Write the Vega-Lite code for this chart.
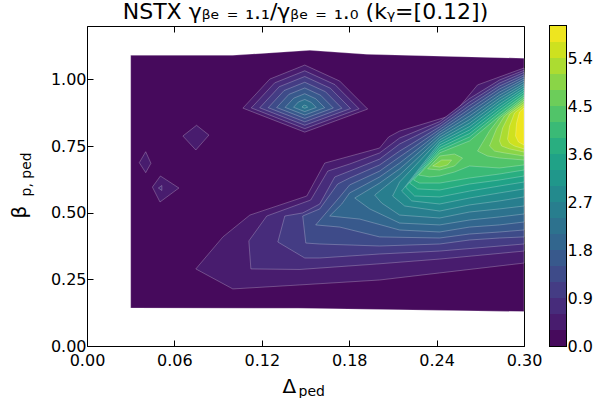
{
  "$schema": "https://vega.github.io/schema/vega-lite/v6.json",
  "background": "white",
  "padding": {"left": 9, "top": 0, "right": 0, "bottom": 0},
  "config": {
    "font": "DejaVu Sans",
    "view": {"stroke": null},
    "axis": {"grid": false, "domain": true, "domainColor": "black", "domainWidth": 1, "ticks": true, "tickColor": "black", "tickWidth": 1, "tickSize": -6, "labelColor": "black", "labelFontSize": 16, "labelFont": "DejaVu Sans", "titleColor": "black", "titleFont": "DejaVu Sans", "titleFontWeight": "normal", "zindex": 1, "labelPadding": 7, "labelFlush": false, "labelOverlap": false},
    "concat": {"spacing": 7}
  },
  "datasets": {
    "bands": [
      {"k":0,"lo":0,"hi":0.3},{"k":1,"lo":0.3,"hi":0.6},{"k":2,"lo":0.6,"hi":0.9},{"k":3,"lo":0.9,"hi":1.2},{"k":4,"lo":1.2,"hi":1.5},{"k":5,"lo":1.5,"hi":1.8},{"k":6,"lo":1.8,"hi":2.1},{"k":7,"lo":2.1,"hi":2.4},{"k":8,"lo":2.4,"hi":2.7},{"k":9,"lo":2.7,"hi":3.0},{"k":10,"lo":3.0,"hi":3.3},{"k":11,"lo":3.3,"hi":3.6},{"k":12,"lo":3.6,"hi":3.9},{"k":13,"lo":3.9,"hi":4.2},{"k":14,"lo":4.2,"hi":4.5},{"k":15,"lo":4.5,"hi":4.8},{"k":16,"lo":4.8,"hi":5.1},{"k":17,"lo":5.1,"hi":5.4},{"k":18,"lo":5.4,"hi":5.7},{"k":19,"lo":5.7,"hi":6.0}
    ],
    "poly": [
      {"p":0,"k":0,"o":1,"x":0.03,"y":0.1425},{"p":0,"k":0,"o":2,"x":0.03,"y":1.09},{"p":0,"k":0,"o":3,"x":0.1,"y":1.09},{"p":0,"k":0,"o":4,"x":0.153,"y":1.109},{"p":0,"k":0,"o":5,"x":0.192,"y":1.094},{"p":0,"k":0,"o":6,"x":0.3,"y":1.079},{"p":0,"k":0,"o":7,"x":0.3,"y":0.129},{"p":0,"k":0,"o":8,"x":0.146,"y":0.1413},

      {"p":1,"k":1,"o":1,"x":0.0747,"y":0.289},{"p":1,"k":1,"o":2,"x":0.0933,"y":0.409},{"p":1,"k":1,"o":3,"x":0.1118,"y":0.491},{"p":1,"k":1,"o":4,"x":0.1509,"y":0.5625},{"p":1,"k":1,"o":5,"x":0.1632,"y":0.686},{"p":1,"k":1,"o":6,"x":0.2009,"y":0.7425},{"p":1,"k":1,"o":7,"x":0.2071,"y":0.784},{"p":1,"k":1,"o":8,"x":0.2146,"y":0.806},{"p":1,"k":1,"o":9,"x":0.251,"y":0.866},{"p":1,"k":1,"o":10,"x":0.2681,"y":0.979},{"p":1,"k":1,"o":11,"x":0.3,"y":1.0425},{"p":1,"k":1,"o":12,"x":0.3,"y":0.311},{"p":1,"k":1,"o":13,"x":0.2421,"y":0.274},{"p":1,"k":1,"o":14,"x":0.2009,"y":0.2475},{"p":1,"k":1,"o":15,"x":0.1461,"y":0.229},{"p":1,"k":1,"o":16,"x":0.1001,"y":0.214},

      {"p":2,"k":2,"o":1,"x":0.1125,"y":0.289},{"p":2,"k":2,"o":2,"x":0.1111,"y":0.394},{"p":2,"k":2,"o":3,"x":0.1234,"y":0.4875},{"p":2,"k":2,"o":4,"x":0.1536,"y":0.5475},{"p":2,"k":2,"o":5,"x":0.1653,"y":0.656},{"p":2,"k":2,"o":6,"x":0.1803,"y":0.6825},{"p":2,"k":2,"o":7,"x":0.2009,"y":0.724},{"p":2,"k":2,"o":8,"x":0.2146,"y":0.78},{"p":2,"k":2,"o":9,"x":0.2421,"y":0.8415},{"p":2,"k":2,"o":10,"x":0.2626,"y":0.928},{"p":2,"k":2,"o":11,"x":0.2832,"y":0.9975},{"p":2,"k":2,"o":12,"x":0.3,"y":1.034},{"p":2,"k":2,"o":13,"x":0.3,"y":0.356},{"p":2,"k":2,"o":14,"x":0.2421,"y":0.326},{"p":2,"k":2,"o":15,"x":0.1989,"y":0.3075},{"p":2,"k":2,"o":16,"x":0.1461,"y":0.287},

      {"p":3,"k":3,"o":1,"x":0.131,"y":0.39},{"p":3,"k":3,"o":2,"x":0.1358,"y":0.4875},{"p":3,"k":3,"o":3,"x":0.1481,"y":0.499},{"p":3,"k":3,"o":4,"x":0.1598,"y":0.5325},{"p":3,"k":3,"o":5,"x":0.1701,"y":0.634},{"p":3,"k":3,"o":6,"x":0.1803,"y":0.656},{"p":3,"k":3,"o":7,"x":0.2009,"y":0.701},{"p":3,"k":3,"o":8,"x":0.2146,"y":0.7575},{"p":3,"k":3,"o":9,"x":0.2421,"y":0.832},{"p":3,"k":3,"o":10,"x":0.2626,"y":0.915},{"p":3,"k":3,"o":11,"x":0.2832,"y":0.986},{"p":3,"k":3,"o":12,"x":0.3,"y":1.026},{"p":3,"k":3,"o":13,"x":0.3,"y":0.3825},{"p":3,"k":3,"o":14,"x":0.2421,"y":0.356},{"p":3,"k":3,"o":15,"x":0.2009,"y":0.345},{"p":3,"k":3,"o":16,"x":0.1598,"y":0.33},{"p":3,"k":3,"o":17,"x":0.1495,"y":0.33},

      {"p":4,"k":4,"o":1,"x":0.1481,"y":0.4875},{"p":4,"k":4,"o":2,"x":0.1598,"y":0.514},{"p":4,"k":4,"o":3,"x":0.1721,"y":0.6075},{"p":4,"k":4,"o":4,"x":0.1803,"y":0.63},{"p":4,"k":4,"o":5,"x":0.2009,"y":0.679},{"p":4,"k":4,"o":6,"x":0.2146,"y":0.731},{"p":4,"k":4,"o":7,"x":0.2421,"y":0.822},{"p":4,"k":4,"o":8,"x":0.2626,"y":0.902},{"p":4,"k":4,"o":9,"x":0.2832,"y":0.975},{"p":4,"k":4,"o":10,"x":0.3,"y":1.017},{"p":4,"k":4,"o":11,"x":0.3,"y":0.409},{"p":4,"k":4,"o":12,"x":0.2832,"y":0.405},{"p":4,"k":4,"o":13,"x":0.2626,"y":0.3975},{"p":4,"k":4,"o":14,"x":0.2421,"y":0.3825},{"p":4,"k":4,"o":15,"x":0.2009,"y":0.375},{"p":4,"k":4,"o":16,"x":0.1598,"y":0.3825},{"p":4,"k":4,"o":17,"x":0.1502,"y":0.386},

      {"p":5,"k":5,"o":1,"x":0.157,"y":0.454},{"p":5,"k":5,"o":2,"x":0.1735,"y":0.559},{"p":5,"k":5,"o":3,"x":0.1803,"y":0.604},{"p":5,"k":5,"o":4,"x":0.2009,"y":0.656},{"p":5,"k":5,"o":5,"x":0.2146,"y":0.709},{"p":5,"k":5,"o":6,"x":0.2421,"y":0.812},{"p":5,"k":5,"o":7,"x":0.2626,"y":0.889},{"p":5,"k":5,"o":8,"x":0.2832,"y":0.964},{"p":5,"k":5,"o":9,"x":0.3,"y":1.009},{"p":5,"k":5,"o":10,"x":0.3,"y":0.435},{"p":5,"k":5,"o":11,"x":0.2832,"y":0.4275},{"p":5,"k":5,"o":12,"x":0.2626,"y":0.42},{"p":5,"k":5,"o":13,"x":0.2421,"y":0.405},{"p":5,"k":5,"o":14,"x":0.2009,"y":0.409},{"p":5,"k":5,"o":15,"x":0.1735,"y":0.446},

      {"p":6,"k":6,"o":1,"x":0.1666,"y":0.4875},{"p":6,"k":6,"o":2,"x":0.1749,"y":0.5325},{"p":6,"k":6,"o":3,"x":0.1803,"y":0.574},{"p":6,"k":6,"o":4,"x":0.2009,"y":0.634},{"p":6,"k":6,"o":5,"x":0.2146,"y":0.686},{"p":6,"k":6,"o":6,"x":0.2421,"y":0.8025},{"p":6,"k":6,"o":7,"x":0.2626,"y":0.876},{"p":6,"k":6,"o":8,"x":0.2832,"y":0.9525},{"p":6,"k":6,"o":9,"x":0.3,"y":1.001},{"p":6,"k":6,"o":10,"x":0.3,"y":0.465},{"p":6,"k":6,"o":11,"x":0.2832,"y":0.454},{"p":6,"k":6,"o":12,"x":0.2626,"y":0.446},{"p":6,"k":6,"o":13,"x":0.2421,"y":0.4275},{"p":6,"k":6,"o":14,"x":0.2146,"y":0.435},{"p":6,"k":6,"o":15,"x":0.1872,"y":0.476},

      {"p":7,"k":7,"o":1,"x":0.1838,"y":0.555},{"p":7,"k":7,"o":2,"x":0.2009,"y":0.611},{"p":7,"k":7,"o":3,"x":0.2146,"y":0.664},{"p":7,"k":7,"o":4,"x":0.2421,"y":0.793},{"p":7,"k":7,"o":5,"x":0.2626,"y":0.8625},{"p":7,"k":7,"o":6,"x":0.2832,"y":0.941},{"p":7,"k":7,"o":7,"x":0.3,"y":0.993},{"p":7,"k":7,"o":8,"x":0.3,"y":0.495},{"p":7,"k":7,"o":9,"x":0.2832,"y":0.484},{"p":7,"k":7,"o":10,"x":0.2626,"y":0.4725},{"p":7,"k":7,"o":11,"x":0.2421,"y":0.454},{"p":7,"k":7,"o":12,"x":0.2146,"y":0.461},{"p":7,"k":7,"o":13,"x":0.1941,"y":0.514},

      {"p":8,"k":8,"o":1,"x":0.1975,"y":0.566},{"p":8,"k":8,"o":2,"x":0.2043,"y":0.596},{"p":8,"k":8,"o":3,"x":0.2146,"y":0.641},{"p":8,"k":8,"o":4,"x":0.2421,"y":0.783},{"p":8,"k":8,"o":5,"x":0.2626,"y":0.849},{"p":8,"k":8,"o":6,"x":0.2832,"y":0.93},{"p":8,"k":8,"o":7,"x":0.3,"y":0.984},{"p":8,"k":8,"o":8,"x":0.3,"y":0.525},{"p":8,"k":8,"o":9,"x":0.2832,"y":0.514},{"p":8,"k":8,"o":10,"x":0.2626,"y":0.5025},{"p":8,"k":8,"o":11,"x":0.2421,"y":0.48},{"p":8,"k":8,"o":12,"x":0.2146,"y":0.491},{"p":8,"k":8,"o":13,"x":0.2023,"y":0.536},

      {"p":9,"k":9,"o":1,"x":0.2098,"y":0.5625},{"p":9,"k":9,"o":2,"x":0.2146,"y":0.615},{"p":9,"k":9,"o":3,"x":0.2421,"y":0.773},{"p":9,"k":9,"o":4,"x":0.2626,"y":0.836},{"p":9,"k":9,"o":5,"x":0.2832,"y":0.919},{"p":9,"k":9,"o":6,"x":0.3,"y":0.976},{"p":9,"k":9,"o":7,"x":0.3,"y":0.559},{"p":9,"k":9,"o":8,"x":0.2832,"y":0.544},{"p":9,"k":9,"o":9,"x":0.2626,"y":0.529},{"p":9,"k":9,"o":10,"x":0.2421,"y":0.506},{"p":9,"k":9,"o":11,"x":0.2181,"y":0.525},

      {"p":10,"k":10,"o":1,"x":0.216,"y":0.581},{"p":10,"k":10,"o":2,"x":0.2421,"y":0.7635},{"p":10,"k":10,"o":3,"x":0.2626,"y":0.823},{"p":10,"k":10,"o":4,"x":0.2832,"y":0.9075},{"p":10,"k":10,"o":5,"x":0.3,"y":0.9675},{"p":10,"k":10,"o":6,"x":0.3,"y":0.589},{"p":10,"k":10,"o":7,"x":0.2832,"y":0.574},{"p":10,"k":10,"o":8,"x":0.2626,"y":0.555},{"p":10,"k":10,"o":9,"x":0.2421,"y":0.5325},{"p":10,"k":10,"o":10,"x":0.2229,"y":0.544},

      {"p":11,"k":11,"o":1,"x":0.2187,"y":0.596},{"p":11,"k":11,"o":2,"x":0.2421,"y":0.754},{"p":11,"k":11,"o":3,"x":0.2626,"y":0.81},{"p":11,"k":11,"o":4,"x":0.2832,"y":0.896},{"p":11,"k":11,"o":5,"x":0.3,"y":0.959},{"p":11,"k":11,"o":6,"x":0.3,"y":0.615},{"p":11,"k":11,"o":7,"x":0.2832,"y":0.6},{"p":11,"k":11,"o":8,"x":0.2626,"y":0.581},{"p":11,"k":11,"o":9,"x":0.2421,"y":0.559},{"p":11,"k":11,"o":10,"x":0.2249,"y":0.5625},

      {"p":12,"k":12,"o":1,"x":0.2215,"y":0.611},{"p":12,"k":12,"o":2,"x":0.2421,"y":0.744},{"p":12,"k":12,"o":3,"x":0.2626,"y":0.797},{"p":12,"k":12,"o":4,"x":0.2832,"y":0.885},{"p":12,"k":12,"o":5,"x":0.3,"y":0.951},{"p":12,"k":12,"o":6,"x":0.3,"y":0.6375},{"p":12,"k":12,"o":7,"x":0.2832,"y":0.6225},{"p":12,"k":12,"o":8,"x":0.2626,"y":0.6075},{"p":12,"k":12,"o":9,"x":0.2421,"y":0.585},{"p":12,"k":12,"o":10,"x":0.227,"y":0.589},

      {"p":13,"k":13,"o":1,"x":0.2242,"y":0.6225},{"p":13,"k":13,"o":2,"x":0.2421,"y":0.734},{"p":13,"k":13,"o":3,"x":0.2626,"y":0.784},{"p":13,"k":13,"o":4,"x":0.2832,"y":0.874},{"p":13,"k":13,"o":5,"x":0.3,"y":0.942},{"p":13,"k":13,"o":6,"x":0.3,"y":0.66},{"p":13,"k":13,"o":7,"x":0.2832,"y":0.645},{"p":13,"k":13,"o":8,"x":0.2626,"y":0.63},{"p":13,"k":13,"o":9,"x":0.2421,"y":0.611},{"p":13,"k":13,"o":10,"x":0.2283,"y":0.611},

      {"p":14,"k":14,"o":1,"x":0.2277,"y":0.641},{"p":14,"k":14,"o":2,"x":0.2421,"y":0.7245},{"p":14,"k":14,"o":3,"x":0.2626,"y":0.769},{"p":14,"k":14,"o":4,"x":0.2832,"y":0.8625},{"p":14,"k":14,"o":5,"x":0.3,"y":0.934},{"p":14,"k":14,"o":6,"x":0.3,"y":0.679},{"p":14,"k":14,"o":7,"x":0.2832,"y":0.6675},{"p":14,"k":14,"o":8,"x":0.2626,"y":0.675},{"p":14,"k":14,"o":9,"x":0.2523,"y":0.6525},{"p":14,"k":14,"o":10,"x":0.2421,"y":0.6375},{"p":14,"k":14,"o":11,"x":0.2352,"y":0.634},

      {"p":15,"k":15,"o":1,"x":0.2338,"y":0.664},{"p":15,"k":15,"o":2,"x":0.2421,"y":0.7125},{"p":15,"k":15,"o":3,"x":0.2523,"y":0.72},{"p":15,"k":15,"o":4,"x":0.2578,"y":0.705},{"p":15,"k":15,"o":5,"x":0.2523,"y":0.675},{"p":15,"k":15,"o":6,"x":0.2421,"y":0.66},
      {"p":16,"k":16,"o":1,"x":0.2373,"y":0.675},{"p":16,"k":16,"o":2,"x":0.2435,"y":0.6975},{"p":16,"k":16,"o":3,"x":0.2503,"y":0.6975},{"p":16,"k":16,"o":4,"x":0.2475,"y":0.679},{"p":16,"k":16,"o":5,"x":0.2421,"y":0.671},

      {"p":17,"k":15,"o":1,"x":0.2681,"y":0.731},{"p":17,"k":15,"o":2,"x":0.2763,"y":0.806},{"p":17,"k":15,"o":3,"x":0.2832,"y":0.855},{"p":17,"k":15,"o":4,"x":0.3,"y":0.926},{"p":17,"k":15,"o":5,"x":0.3,"y":0.6975},{"p":17,"k":15,"o":6,"x":0.2832,"y":0.705},{"p":17,"k":15,"o":7,"x":0.275,"y":0.7125},
      {"p":18,"k":16,"o":1,"x":0.2763,"y":0.75},{"p":18,"k":16,"o":2,"x":0.2811,"y":0.814},{"p":18,"k":16,"o":3,"x":0.2866,"y":0.8625},{"p":18,"k":16,"o":4,"x":0.3,"y":0.918},{"p":18,"k":16,"o":5,"x":0.3,"y":0.7125},{"p":18,"k":16,"o":6,"x":0.2866,"y":0.724},{"p":18,"k":16,"o":7,"x":0.2798,"y":0.731},
      {"p":19,"k":17,"o":1,"x":0.2832,"y":0.769},{"p":19,"k":17,"o":2,"x":0.2853,"y":0.8175},{"p":19,"k":17,"o":3,"x":0.2901,"y":0.87},{"p":19,"k":17,"o":4,"x":0.3,"y":0.909},{"p":19,"k":17,"o":5,"x":0.3,"y":0.7275},{"p":19,"k":17,"o":6,"x":0.2901,"y":0.739},{"p":19,"k":17,"o":7,"x":0.2846,"y":0.75},
      {"p":20,"k":18,"o":1,"x":0.2887,"y":0.776},{"p":20,"k":18,"o":2,"x":0.2901,"y":0.825},{"p":20,"k":18,"o":3,"x":0.2935,"y":0.874},{"p":20,"k":18,"o":4,"x":0.3,"y":0.901},{"p":20,"k":18,"o":5,"x":0.3,"y":0.739},{"p":20,"k":18,"o":6,"x":0.2935,"y":0.75},{"p":20,"k":18,"o":7,"x":0.2901,"y":0.761},
      {"p":21,"k":19,"o":1,"x":0.2942,"y":0.7875},{"p":21,"k":19,"o":2,"x":0.2949,"y":0.836},{"p":21,"k":19,"o":3,"x":0.2969,"y":0.8775},{"p":21,"k":19,"o":4,"x":0.3,"y":0.8925},{"p":21,"k":19,"o":5,"x":0.3,"y":0.754},{"p":21,"k":19,"o":6,"x":0.2962,"y":0.765},

      {"p":22,"k":1,"o":1,"x":0.107,"y":0.892},{"p":22,"k":1,"o":2,"x":0.1255,"y":1.001},{"p":22,"k":1,"o":3,"x":0.1495,"y":1.0535},{"p":22,"k":1,"o":4,"x":0.1735,"y":0.9935},{"p":22,"k":1,"o":5,"x":0.1927,"y":0.8885},{"p":22,"k":1,"o":6,"x":0.1495,"y":0.802},
      {"p":23,"k":2,"o":1,"x":0.1128,"y":0.8928},{"p":23,"k":2,"o":2,"x":0.1288,"y":0.9867},{"p":23,"k":2,"o":3,"x":0.1495,"y":1.032},{"p":23,"k":2,"o":4,"x":0.1702,"y":0.9802},{"p":23,"k":2,"o":5,"x":0.1868,"y":0.8895},{"p":23,"k":2,"o":6,"x":0.1495,"y":0.815},
      {"p":24,"k":3,"o":1,"x":0.1186,"y":0.8933},{"p":24,"k":3,"o":2,"x":0.132,"y":0.9724},{"p":24,"k":3,"o":3,"x":0.1495,"y":1.0106},{"p":24,"k":3,"o":4,"x":0.167,"y":0.9669},{"p":24,"k":3,"o":5,"x":0.1809,"y":0.8905},{"p":24,"k":3,"o":6,"x":0.1495,"y":0.8278},
      {"p":25,"k":4,"o":1,"x":0.1244,"y":0.8938},{"p":25,"k":4,"o":2,"x":0.1353,"y":0.958},{"p":25,"k":4,"o":3,"x":0.1495,"y":0.9891},{"p":25,"k":4,"o":4,"x":0.1637,"y":0.9536},{"p":25,"k":4,"o":5,"x":0.175,"y":0.8916},{"p":25,"k":4,"o":6,"x":0.1495,"y":0.8406},
      {"p":26,"k":5,"o":1,"x":0.1302,"y":0.8943},{"p":26,"k":5,"o":2,"x":0.1386,"y":0.9437},{"p":26,"k":5,"o":3,"x":0.1495,"y":0.9676},{"p":26,"k":5,"o":4,"x":0.1604,"y":0.9403},{"p":26,"k":5,"o":5,"x":0.1691,"y":0.8926},{"p":26,"k":5,"o":6,"x":0.1495,"y":0.8534},
      {"p":27,"k":6,"o":1,"x":0.136,"y":0.8948},{"p":27,"k":6,"o":2,"x":0.1419,"y":0.9294},{"p":27,"k":6,"o":3,"x":0.1495,"y":0.9461},{"p":27,"k":6,"o":4,"x":0.1571,"y":0.927},{"p":27,"k":6,"o":5,"x":0.1632,"y":0.8936},{"p":27,"k":6,"o":6,"x":0.1495,"y":0.8662},
      {"p":28,"k":7,"o":1,"x":0.1418,"y":0.8953},{"p":28,"k":7,"o":2,"x":0.1451,"y":0.9151},{"p":28,"k":7,"o":3,"x":0.1495,"y":0.9246},{"p":28,"k":7,"o":4,"x":0.1539,"y":0.9137},{"p":28,"k":7,"o":5,"x":0.1574,"y":0.8946},{"p":28,"k":7,"o":6,"x":0.1495,"y":0.879},
      {"p":29,"k":8,"o":1,"x":0.1476,"y":0.8958},{"p":29,"k":8,"o":2,"x":0.1484,"y":0.9008},{"p":29,"k":8,"o":3,"x":0.1495,"y":0.9032},{"p":29,"k":8,"o":4,"x":0.1506,"y":0.9004},{"p":29,"k":8,"o":5,"x":0.1515,"y":0.8957},{"p":29,"k":8,"o":6,"x":0.1495,"y":0.8917},

      {"p":30,"k":1,"o":1,"x":0.0752,"y":0.8276},{"p":30,"k":1,"o":2,"x":0.0837,"y":0.791},{"p":30,"k":1,"o":3,"x":0.0747,"y":0.735},{"p":30,"k":1,"o":4,"x":0.0658,"y":0.7875},
      {"p":31,"k":1,"o":1,"x":0.0403,"y":0.7286},{"p":31,"k":1,"o":2,"x":0.0439,"y":0.6851},{"p":31,"k":1,"o":3,"x":0.0403,"y":0.65},{"p":31,"k":1,"o":4,"x":0.0359,"y":0.6874},
      {"p":32,"k":1,"o":1,"x":0.0449,"y":0.596},{"p":32,"k":1,"o":2,"x":0.0504,"y":0.6375},{"p":32,"k":1,"o":3,"x":0.0631,"y":0.5925},{"p":32,"k":1,"o":4,"x":0.0501,"y":0.54},
      {"p":33,"k":2,"o":1,"x":0.049,"y":0.5925},{"p":33,"k":2,"o":2,"x":0.0514,"y":0.6019},{"p":33,"k":2,"o":3,"x":0.0514,"y":0.5831}
    ]
  },
  "hconcat": [
    {
      "width": 437,
      "height": 320,
      "title": {"text": "NSTX γᵦₑ ₌ ₁.₁/γᵦₑ ₌ ₁.₀ (kᵧ=[0.12])", "fontSize": 22, "font": "DejaVu Sans", "fontWeight": "normal", "anchor": "middle", "frame": "group", "offset": 2, "color": "black"},
      "layer": [
        {
          "data": {"name": "poly"},
          "mark": {"type": "line", "interpolate": "linear-closed", "stroke": "#ffffff", "strokeOpacity": 0.35, "strokeWidth": 0.7},
          "encoding": {
            "x": {"field": "x", "type": "quantitative", "scale": {"domain": [0, 0.3], "nice": false, "zero": false}, "axis": {"orient": "bottom", "values": [0, 0.06, 0.12, 0.18, 0.24, 0.3], "format": ".2f", "labelPadding": 12, "title": "Δ", "titleFontSize": 20, "titleX": 195, "titleY": 46.6, "titleAlign": "left", "titleBaseline": "alphabetic"}},
            "y": {"field": "y", "type": "quantitative", "scale": {"domain": [0, 1.2], "nice": false, "zero": false}, "axis": {"orient": "left", "values": [0, 0.25, 0.5, 0.75, 1.0], "format": ".2f", "title": "β", "titleFontSize": 20, "titleAngle": 270, "titleX": -62, "titleY": 192, "titleAlign": "left", "titleBaseline": "alphabetic"}},
            "fill": {"field": "k", "type": "ordinal", "scale": {"domain": [0,1,2,3,4,5,6,7,8,9,10,11,12,13,14,15,16,17,18,19], "range": ["#460a5c","#481c6e","#472c7b","#443c84","#3e4b89","#38598c","#32668e","#2d728e","#287e8e","#238a8d","#20978b","#20a287","#29ae80","#3aba76","#51c469","#6ccd5a","#8ad547","#acdc31","#cee11f","#eee51f"]}, "legend": null},
            "detail": {"field": "p", "type": "nominal"},
            "order": {"field": "o", "type": "quantitative"}
          }
        },
        {
          "data": {"name": "poly"},
          "transform": [{"filter": "datum.p == 0"}],
          "mark": {"type": "line", "interpolate": "linear-closed", "strokeOpacity": 0},
          "encoding": {
            "x": {"field": "x", "type": "quantitative", "axis": {"orient": "top", "values": [0, 0.06, 0.12, 0.18, 0.24, 0.3], "labels": false, "title": "ped", "titleFontSize": 14, "titleX": 211, "titleY": 369, "titleAlign": "left", "titleBaseline": "alphabetic"}},
            "y": {"field": "y", "type": "quantitative", "axis": {"orient": "right", "values": [0, 0.25, 0.5, 0.75, 1.0], "labels": false, "title": "p, ped", "titleFontSize": 14, "titleAngle": 270, "titleX": -494, "titleY": 170, "titleAlign": "left", "titleBaseline": "alphabetic"}},
            "detail": {"field": "p", "type": "nominal"},
            "order": {"field": "o", "type": "quantitative"}
          }
        }
      ],
      "resolve": {"axis": {"x": "independent", "y": "independent"}}
    },
    {
      "width": 16,
      "height": 320,
      "view": {"stroke": "black", "strokeWidth": 2},
      "data": {"name": "bands"},
      "mark": {"type": "rect"},
      "encoding": {
        "y": {"field": "lo", "type": "quantitative", "scale": {"domain": [0, 6], "nice": false, "zero": false}, "axis": {"orient": "right", "values": [0, 0.9, 1.8, 2.7, 3.6, 4.5, 5.4], "format": ".1f", "title": null, "tickSize": -5, "labelPadding": 6}},
        "y2": {"field": "hi"},
        "fill": {"field": "k", "type": "ordinal", "scale": {"domain": [0,1,2,3,4,5,6,7,8,9,10,11,12,13,14,15,16,17,18,19], "range": ["#460a5c","#481c6e","#472c7b","#443c84","#3e4b89","#38598c","#32668e","#2d728e","#287e8e","#238a8d","#20978b","#20a287","#29ae80","#3aba76","#51c469","#6ccd5a","#8ad547","#acdc31","#cee11f","#eee51f"]}, "legend": null}
      }
    }
  ]
}
